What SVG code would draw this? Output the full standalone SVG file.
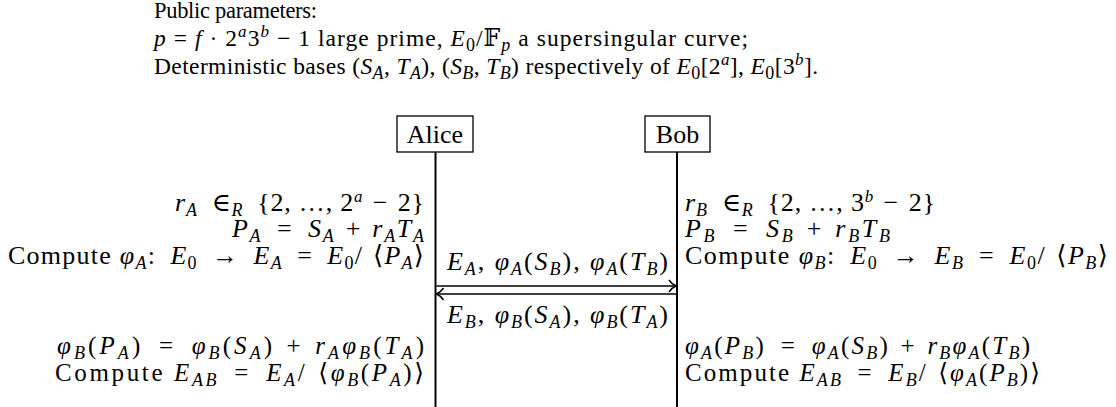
<svg xmlns="http://www.w3.org/2000/svg" width="1116" height="407" viewBox="0 0 1116 407">
<style>
text { font-family: "Liberation Serif", "DejaVu Serif", serif; font-size: 26px; fill: #000; }
.top { font-size: 23.5px; }
.t1 { font-size: 22.5px; }
.low { font-size: 25px; }
.i { font-style: italic; }
.sb { font-size: 18px; baseline-shift: -5px; }
.sp { font-size: 17px; baseline-shift: 9px; }
.box { fill: #fff; stroke: #000; stroke-width: 1.3; }
.life { stroke: #000; stroke-width: 2; fill: none; }
.msg { stroke: #000; stroke-width: 1.7; fill: none; }
</style>
<defs>
<marker id="to" markerWidth="12" markerHeight="16" refX="10" refY="8" orient="auto" markerUnits="userSpaceOnUse">
<path d="M3,2 C5,5 8,7.2 10,8 C8,8.8 5,11 3,14" fill="none" stroke="#000" stroke-width="1.5"/>
</marker>
</defs>

<g id="params">
<text class="t1" x="154" y="18" textLength="163" lengthAdjust="spacing">Public parameters:</text>
<text class="top" x="154" y="46" textLength="594" lengthAdjust="spacing"><tspan class="i">p</tspan> = <tspan class="i">f</tspan> · 2<tspan class="sp i">a</tspan>3<tspan class="sp i">b</tspan> − 1 large prime, <tspan class="i">E</tspan><tspan class="sb">0</tspan>/𝔽<tspan class="sb i">p</tspan> a supersingular curve;</text>
<text class="top" x="154" y="74" textLength="664" lengthAdjust="spacing">Deterministic bases (<tspan class="i">S</tspan><tspan class="sb i">A</tspan>, <tspan class="i">T</tspan><tspan class="sb i">A</tspan>), (<tspan class="i">S</tspan><tspan class="sb i">B</tspan>, <tspan class="i">T</tspan><tspan class="sb i">B</tspan>) respectively of <tspan class="i">E</tspan><tspan class="sb">0</tspan>[2<tspan class="sp i">a</tspan>], <tspan class="i">E</tspan><tspan class="sb">0</tspan>[3<tspan class="sp i">b</tspan>].</text>
</g>

<g id="alice">
<line class="life" x1="435.5" y1="152" x2="435.5" y2="407"/>
<rect class="box" x="397" y="116" width="76" height="36"/>
<text x="435" y="142.5" text-anchor="middle">Alice</text>
</g>

<g id="bob">
<line class="life" x1="677" y1="152" x2="677" y2="407"/>
<rect class="box" x="645" y="116" width="65" height="36"/>
<text x="677.5" y="142.5" text-anchor="middle">Bob</text>
</g>

<g id="alice-keygen">
<text x="175" y="211" textLength="249" lengthAdjust="spacing"><tspan class="i">r</tspan><tspan class="sb i">A</tspan>&#x2002;∈<tspan class="sb i">R</tspan>&#x2002;{2, …, 2<tspan class="sp i">a</tspan>&#x2004;−&#x2004;2}</text>
<text x="232" y="237" textLength="192" lengthAdjust="spacing"><tspan class="i">P</tspan><tspan class="sb i">A</tspan>&#x2002;=&#x2002;<tspan class="i">S</tspan><tspan class="sb i">A</tspan>&#x2004;+&#x2004;<tspan class="i">r</tspan><tspan class="sb i">A</tspan><tspan class="i">T</tspan><tspan class="sb i">A</tspan></text>
<text x="8" y="264" textLength="416" lengthAdjust="spacing">Compute <tspan class="i">φ</tspan><tspan class="sb i">A</tspan>:&#x2002;<tspan class="i">E</tspan><tspan class="sb">0</tspan>&#x2002;→&#x2002;<tspan class="i">E</tspan><tspan class="sb i">A</tspan>&#x2002;=&#x2002;<tspan class="i">E</tspan><tspan class="sb">0</tspan>/&#x2004;⟨<tspan class="i">P</tspan><tspan class="sb i">A</tspan>⟩</text>
</g>

<g id="bob-keygen">
<text x="685" y="211" textLength="250" lengthAdjust="spacing"><tspan class="i">r</tspan><tspan class="sb i">B</tspan>&#x2002;∈<tspan class="sb i">R</tspan>&#x2002;{2, …, 3<tspan class="sp i">b</tspan>&#x2004;−&#x2004;2}</text>
<text x="685" y="237" textLength="205" lengthAdjust="spacing"><tspan class="i">P</tspan><tspan class="sb i">B</tspan>&#x2002;=&#x2002;<tspan class="i">S</tspan><tspan class="sb i">B</tspan>&#x2004;+&#x2004;<tspan class="i">r</tspan><tspan class="sb i">B</tspan><tspan class="i">T</tspan><tspan class="sb i">B</tspan></text>
<text x="685" y="264" textLength="423" lengthAdjust="spacing">Compute <tspan class="i">φ</tspan><tspan class="sb i">B</tspan>:&#x2002;<tspan class="i">E</tspan><tspan class="sb">0</tspan>&#x2002;→&#x2002;<tspan class="i">E</tspan><tspan class="sb i">B</tspan>&#x2002;=&#x2002;<tspan class="i">E</tspan><tspan class="sb">0</tspan>/&#x2004;⟨<tspan class="i">P</tspan><tspan class="sb i">B</tspan>⟩</text>
</g>

<g id="connectors">
<line class="msg" x1="436.5" y1="286" x2="676" y2="286" marker-end="url(#to)"/>
<line class="msg" x1="676" y1="294" x2="436.5" y2="294" marker-end="url(#to)"/>
<text x="447" y="270" textLength="221" lengthAdjust="spacing"><tspan class="i">E</tspan><tspan class="sb i">A</tspan>, <tspan class="i">φ</tspan><tspan class="sb i">A</tspan>(<tspan class="i">S</tspan><tspan class="sb i">B</tspan>), <tspan class="i">φ</tspan><tspan class="sb i">A</tspan>(<tspan class="i">T</tspan><tspan class="sb i">B</tspan>)</text>
<text x="447" y="323" textLength="221" lengthAdjust="spacing"><tspan class="i">E</tspan><tspan class="sb i">B</tspan>, <tspan class="i">φ</tspan><tspan class="sb i">B</tspan>(<tspan class="i">S</tspan><tspan class="sb i">A</tspan>), <tspan class="i">φ</tspan><tspan class="sb i">B</tspan>(<tspan class="i">T</tspan><tspan class="sb i">A</tspan>)</text>
</g>

<g id="alice-shared">
<text class="low" x="57" y="354" textLength="367" lengthAdjust="spacing"><tspan class="i">φ</tspan><tspan class="sb i">B</tspan>(<tspan class="i">P</tspan><tspan class="sb i">A</tspan>)&#x2002;=&#x2002;<tspan class="i">φ</tspan><tspan class="sb i">B</tspan>(<tspan class="i">S</tspan><tspan class="sb i">A</tspan>)&#x2004;+&#x2004;<tspan class="i">r</tspan><tspan class="sb i">A</tspan><tspan class="i">φ</tspan><tspan class="sb i">B</tspan>(<tspan class="i">T</tspan><tspan class="sb i">A</tspan>)</text>
<text class="low" x="55" y="381" textLength="369" lengthAdjust="spacing">Compute <tspan class="i">E</tspan><tspan class="sb i">AB</tspan>&#x2002;=&#x2002;<tspan class="i">E</tspan><tspan class="sb i">A</tspan>/&#x2004;⟨<tspan class="i">φ</tspan><tspan class="sb i">B</tspan>(<tspan class="i">P</tspan><tspan class="sb i">A</tspan>)⟩</text>
</g>

<g id="bob-shared">
<text class="low" x="685" y="354" textLength="345" lengthAdjust="spacing"><tspan class="i">φ</tspan><tspan class="sb i">A</tspan>(<tspan class="i">P</tspan><tspan class="sb i">B</tspan>)&#x2002;=&#x2002;<tspan class="i">φ</tspan><tspan class="sb i">A</tspan>(<tspan class="i">S</tspan><tspan class="sb i">B</tspan>)&#x2004;+&#x2004;<tspan class="i">r</tspan><tspan class="sb i">B</tspan><tspan class="i">φ</tspan><tspan class="sb i">A</tspan>(<tspan class="i">T</tspan><tspan class="sb i">B</tspan>)</text>
<text class="low" x="685" y="381" textLength="355" lengthAdjust="spacing">Compute <tspan class="i">E</tspan><tspan class="sb i">AB</tspan>&#x2002;=&#x2002;<tspan class="i">E</tspan><tspan class="sb i">B</tspan>/&#x2004;⟨<tspan class="i">φ</tspan><tspan class="sb i">A</tspan>(<tspan class="i">P</tspan><tspan class="sb i">B</tspan>)⟩</text>
</g>
</svg>
